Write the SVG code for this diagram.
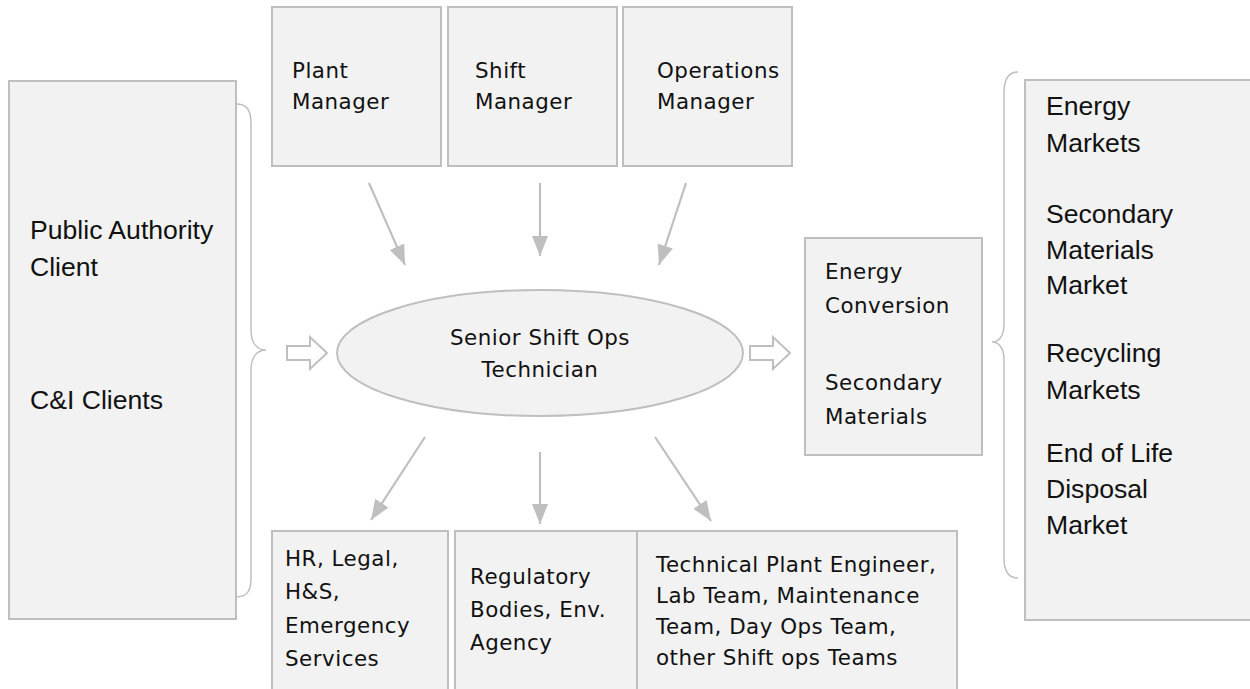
<svg xmlns="http://www.w3.org/2000/svg" width="1250" height="689" viewBox="0 0 1250 689">
<style>
.box{fill:#f2f2f2;stroke:#bfbfbf;stroke-width:2}
.a{font-family:"Liberation Sans",Arial,sans-serif;font-size:26.6px;fill:#111}
.v{font-family:"DejaVu Sans",Verdana,sans-serif;font-size:21.4px;letter-spacing:0.5px;fill:#111}
.ln{stroke:#bfbfbf;stroke-width:2.2;fill:none}
.br{stroke:#bfbfbf;stroke-width:1.5;fill:none}
.ha{fill:#fff;stroke:#bfbfbf;stroke-width:2}
</style>
<defs>
<marker id="tri" viewBox="0 0 20 16" refX="20" refY="8" markerWidth="20" markerHeight="16" markerUnits="userSpaceOnUse" orient="auto">
<path d="M0,0 L20,8 L0,16 z" fill="#bfbfbf"/>
</marker>
</defs>
<rect width="1250" height="689" fill="#fff"/>
<g id="public-clients">
<rect class="box" x="9" y="81" width="227" height="538"/>
<text class="a" x="30" y="239">Public Authority</text>
<text class="a" x="30" y="276">Client</text>
<text class="a" x="30" y="409">C&amp;I Clients</text>
</g>
<g id="plant-manager">
<rect class="box" x="272" y="7" width="169" height="159"/>
<text class="v" x="292" y="78">Plant</text>
<text class="v" x="292" y="109">Manager</text>
</g>
<g id="shift-manager">
<rect class="box" x="448" y="7" width="169" height="159"/>
<text class="v" x="475" y="78">Shift</text>
<text class="v" x="475" y="109">Manager</text>
</g>
<g id="operations-manager">
<rect class="box" x="623" y="7" width="169" height="159"/>
<text class="v" x="657" y="78">Operations</text>
<text class="v" x="657" y="109">Manager</text>
</g>
<g id="senior-tech">
<ellipse class="box" cx="540" cy="353" rx="203" ry="63"/>
<text class="v" x="540" y="345" text-anchor="middle">Senior Shift Ops</text>
<text class="v" x="540" y="377" text-anchor="middle">Technician</text>
</g>
<g id="outputs">
<rect class="box" x="805" y="238" width="177" height="217"/>
<text class="v" x="825" y="279">Energy</text>
<text class="v" x="825" y="313">Conversion</text>
<text class="v" x="825" y="390">Secondary</text>
<text class="v" x="825" y="424">Materials</text>
</g>
<g id="markets">
<rect class="box" x="1025" y="80" width="240" height="540"/>
<text class="a" x="1046" y="115">Energy</text>
<text class="a" x="1046" y="152">Markets</text>
<text class="a" x="1046" y="223">Secondary</text>
<text class="a" x="1046" y="259">Materials</text>
<text class="a" x="1046" y="294">Market</text>
<text class="a" x="1046" y="362">Recycling</text>
<text class="a" x="1046" y="399">Markets</text>
<text class="a" x="1046" y="462">End of Life</text>
<text class="a" x="1046" y="498">Disposal</text>
<text class="a" x="1046" y="534">Market</text>
</g>
<g id="hr-legal">
<rect class="box" x="272" y="531" width="176" height="170"/>
<text class="v" x="285" y="566">HR, Legal,</text>
<text class="v" x="285" y="599">H&amp;S,</text>
<text class="v" x="285" y="633">Emergency</text>
<text class="v" x="285" y="666">Services</text>
</g>
<g id="regulatory">
<rect class="box" x="455" y="531" width="182" height="170"/>
<text class="v" x="470" y="584">Regulatory</text>
<text class="v" x="470" y="617">Bodies, Env.</text>
<text class="v" x="470" y="650">Agency</text>
</g>
<g id="technical-teams">
<rect class="box" x="637" y="531" width="320" height="170"/>
<text class="v" x="656" y="572">Technical Plant Engineer,</text>
<text class="v" x="656" y="603">Lab Team, Maintenance</text>
<text class="v" x="656" y="634">Team, Day Ops Team,</text>
<text class="v" x="656" y="665">other Shift ops Teams</text>
</g>
<g id="connectors">
<path class="br" d="M236,104 C247,104 251,110 251,124 L251,330 C251,343 257,350 266,350 C257,350 251,357 251,370 L251,578 C251,591 247,597 236,597"/>
<path class="br" d="M1018,72 C1008,72 1004,79 1004,93 L1004,324 C1004,336 999,342 992,342 C999,342 1004,348 1004,360 L1004,558 C1004,571 1008,578 1018,578"/>
<polygon class="ha" points="287,346 310,346 310,337 327,353 310,369 310,360 287,360"/>
<polygon class="ha" points="750,346 773,346 773,337 790,353 773,369 773,360 750,360"/>
<line class="ln" x1="369" y1="183" x2="405" y2="265" marker-end="url(#tri)"/>
<line class="ln" x1="540" y1="183" x2="540" y2="256" marker-end="url(#tri)"/>
<line class="ln" x1="686" y1="183" x2="659" y2="265" marker-end="url(#tri)"/>
<line class="ln" x1="425" y1="437" x2="371" y2="520" marker-end="url(#tri)"/>
<line class="ln" x1="540" y1="452" x2="540" y2="524" marker-end="url(#tri)"/>
<line class="ln" x1="655" y1="437" x2="711" y2="521" marker-end="url(#tri)"/>
</g>
</svg>
